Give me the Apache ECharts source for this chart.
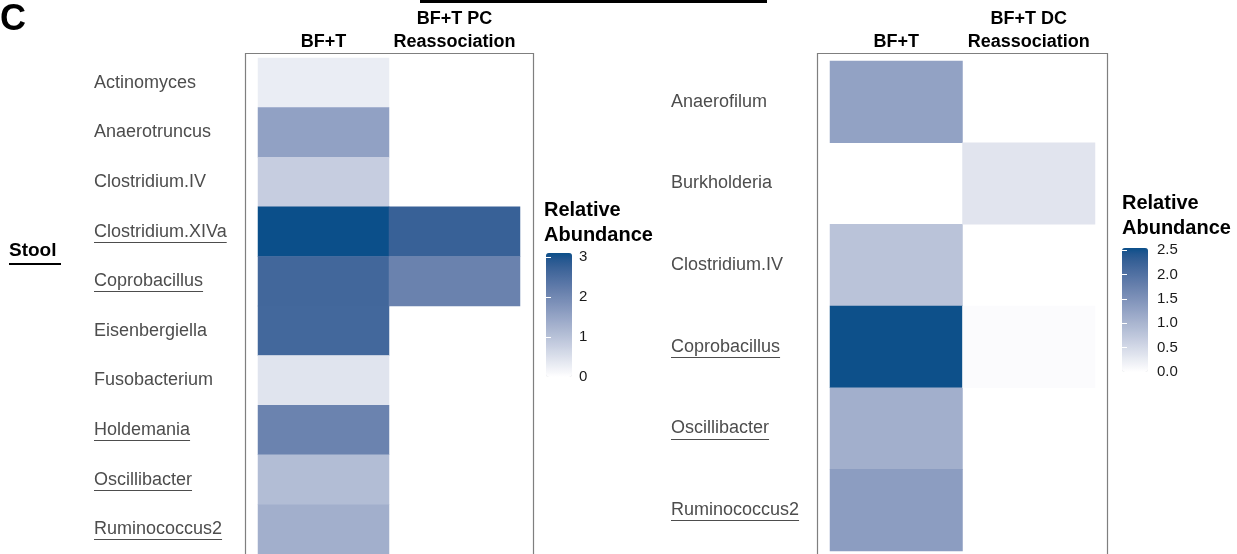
<!DOCTYPE html>
<html><head><meta charset="utf-8">
<script src="https://cdn.jsdelivr.net/npm/echarts@6/dist/echarts.min.js"></script>
<style>html,body{margin:0;padding:0;background:#fff}#c{width:1237px;height:554px}</style>
</head><body><div id="c"></div>
<script>
// ---- data ----
const leftCats = ['Actinomyces','Anaerotruncus','Clostridium.IV','Clostridium.XIVa','Coprobacillus','Eisenbergiella','Fusobacterium','Holdemania','Oscillibacter','Ruminococcus2'];
const leftGroups = ['BF+T','BF+T PC\nReassociation'];
const leftBFT = [0.29,1.56,0.81,3.1,2.64,2.62,0.43,2.1,1.08,1.33];
const leftPC  = [null,null,null,2.75,2.11,null,null,null,null,null];
const leftUnderlined = ['Clostridium.XIVa','Coprobacillus','Holdemania','Oscillibacter','Ruminococcus2'];

const rightCats = ['Anaerofilum','Burkholderia','Clostridium.IV','Coprobacillus','Oscillibacter','Ruminococcus2'];
const rightGroups = ['BF+T','BF+T DC\nReassociation'];
const rightBFT = [1.27,null,0.8,2.53,1.08,1.34];
const rightDC  = [null,0.35,null,0.05,null,null];
const rightUnderlined = ['Coprobacillus','Oscillibacter','Ruminococcus2'];

const leftScaleMax = 3.1, rightScaleMax = 2.54;
const leftTicks = [0,1,2,3];
const rightTicks = [0,0.5,1,1.5,2,2.5];

// ---- colour ramp (Lab interpolation white -> dark blue) ----
function toLin(c){c/=255;return c<=0.04045?c/12.92:Math.pow((c+0.055)/1.055,2.4);}
function fromLin(c){const v=c<=0.0031308?12.92*c:1.055*Math.pow(c,1/2.4)-0.055;return Math.max(0,Math.min(255,Math.round(v*255)));}
function rgb2lab(h){const r=toLin(parseInt(h.substr(1,2),16)),g=toLin(parseInt(h.substr(3,2),16)),b=toLin(parseInt(h.substr(5,2),16));
 let X=(0.4124*r+0.3576*g+0.1805*b)/0.95047,Y=0.2126*r+0.7152*g+0.0722*b,Z=(0.0193*r+0.1192*g+0.9505*b)/1.08883;
 const f=t=>t>0.008856?Math.cbrt(t):7.787*t+16/116;const fx=f(X),fy=f(Y),fz=f(Z);
 return [116*fy-16,500*(fx-fy),200*(fy-fz)];}
function lab2hex(L,a,b){const fy=(L+16)/116,fx=fy+a/500,fz=fy-b/200;const fi=t=>t*t*t>0.008856?t*t*t:(t-16/116)/7.787;
 const X=fi(fx)*0.95047,Y=fi(fy),Z=fi(fz)*1.08883;
 const r=3.2406*X-1.5372*Y-0.4986*Z,g=-0.9689*X+1.8758*Y+0.0415*Z,bb=0.0557*X-0.2040*Y+1.0570*Z;
 return '#'+[r,g,bb].map(v=>fromLin(v).toString(16).padStart(2,'0')).join('');}
const lo=rgb2lab('#ffffff'), hi=rgb2lab('#0b4f8a');
const ramp=[];for(let i=0;i<=20;i++){const t=i/20;ramp.push(lab2hex(lo[0]+(hi[0]-lo[0])*t,lo[1]+(hi[1]-lo[1])*t,lo[2]+(hi[2]-lo[2])*t));}

function cells(cols){const out=[];cols.forEach((arr,x)=>arr.forEach((v,y)=>{if(v!==null)out.push([x,y,v]);}));return out;}

const FONT='"Liberation Sans", Arial, Helvetica, sans-serif';
const LABEL_SIZE=18;
const chart=echarts.init(document.getElementById('c'),null,{renderer:'canvas'});

function catY(cats,margin,idx){return {type:'category',data:cats,inverse:true,gridIndex:idx,axisLine:{show:false},axisTick:{show:false},splitLine:{show:false},
  axisLabel:{align:'left',margin:margin,color:'#4d4d4d',fontSize:LABEL_SIZE,fontFamily:FONT}};}
function catX(groups,margin,idx){return {type:'category',data:groups,position:'top',gridIndex:idx,axisLine:{show:false},axisTick:{show:false},splitLine:{show:false},
  axisLabel:{margin:margin,color:'#000',fontSize:18,fontWeight:'bold',fontFamily:FONT,lineHeight:23,interval:0}};}
function legY(idx,max,ticks,pos,showLabel,margin,fmt){return {type:'value',gridIndex:idx,min:0,max:max,position:pos,z:10,
  axisLine:{show:false},splitLine:{show:false},
  axisTick:{show:true,inside:true,length:5,lineStyle:{color:'#fff',width:1},customValues:ticks},
  axisLabel:{show:showLabel,margin:margin,color:'#1a1a1a',fontSize:15,fontFamily:FONT,customValues:ticks,formatter:fmt}};}

const option={
  animation:false,
  grid:[
    {left:258,top:58,width:262,height:496},
    {left:830,top:61,width:265,height:490},
    {left:546,top:253,width:26,height:124},
    {left:1122,top:248,width:26,height:124}
  ],
  xAxis:[catX(leftGroups,4,0),catX(rightGroups,7,1),
    {type:'value',gridIndex:2,show:false},{type:'value',gridIndex:3,show:false}],
  yAxis:[catY(leftCats,164,0),catY(rightCats,159,1),
    legY(2,leftScaleMax,leftTicks,'right',true,7,v=>String(v)),
    legY(2,leftScaleMax,leftTicks,'left',false,0,v=>String(v)),
    legY(3,rightScaleMax,rightTicks,'right',true,9,v=>v.toFixed(1)),
    legY(3,rightScaleMax,rightTicks,'left',false,0,v=>v.toFixed(1))],
  visualMap:[
    {type:'continuous',min:0,max:leftScaleMax,seriesIndex:0,left:546,top:253,itemWidth:26,itemHeight:124,padding:0,calculable:false,hoverLink:false,inRange:{color:ramp}},
    {type:'continuous',min:0,max:rightScaleMax,seriesIndex:1,left:1122,top:248,itemWidth:26,itemHeight:124,padding:0,calculable:false,hoverLink:false,inRange:{color:ramp}}
  ],
  series:[
    {type:'heatmap',xAxisIndex:0,yAxisIndex:0,data:cells([leftBFT,leftPC]),emphasis:{disabled:true}},
    {type:'heatmap',xAxisIndex:1,yAxisIndex:1,data:cells([rightBFT,rightDC]),emphasis:{disabled:true}}
  ]
};
chart.setOption(option);

// decorations
const ctx=document.createElement('canvas').getContext('2d');
ctx.font=LABEL_SIZE+'px '+FONT;
const g=[];
g.push({type:'rect',shape:{x:245.5,y:53.5,width:288,height:520},style:{fill:'none',stroke:'#7f7f7f',lineWidth:1.2}});
g.push({type:'rect',shape:{x:817.5,y:53.5,width:290,height:520},style:{fill:'none',stroke:'#7f7f7f',lineWidth:1.2}});
g.push({type:'rect',shape:{x:420,y:0,width:347,height:3},style:{fill:'#000'}});
g.push({type:'text',left:0,top:2,style:{text:'C',font:'bold 36px '+FONT,fill:'#000'}});
g.push({type:'text',left:9,top:241,style:{text:'Stool',font:'bold 19px '+FONT,fill:'#000'}});
g.push({type:'rect',shape:{x:9,y:263,width:52,height:2},style:{fill:'#000'}});
g.push({type:'text',left:544,top:198,style:{text:'Relative\nAbundance',font:'bold 20px '+FONT,fill:'#000',lineHeight:25}});
g.push({type:'text',left:1122,top:191,style:{text:'Relative\nAbundance',font:'bold 20px '+FONT,fill:'#000',lineHeight:25}});
function underline(list,cats,axisIdx,x){
  list.forEach(name=>{const y=chart.convertToPixel({yAxisIndex:axisIdx},name);const w=ctx.measureText(name).width;
    g.push({type:'rect',shape:{x:x,y:Math.round(y)+10,width:w,height:1},style:{fill:'#4d4d4d'}});});
}
underline(leftUnderlined,leftCats,0,94);
underline(rightUnderlined,rightCats,1,671);
chart.setOption({graphic:g});
</script></body></html>
